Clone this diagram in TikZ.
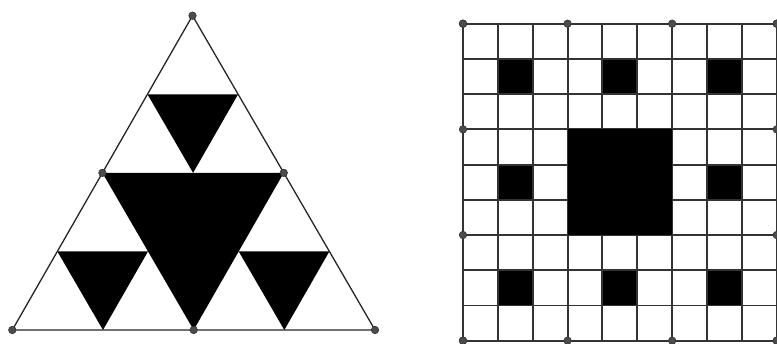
\documentclass[tikz,border=0pt]{standalone}
\usetikzlibrary{calc}
\begin{document}
\begin{tikzpicture}[x=1pt,y=-1pt,
  dot/.style={circle,fill=black!70,draw=black!80,line width=0.6pt,inner sep=0pt,minimum size=7.5pt},
  edge/.style={line width=1.3pt,black!85},
  gridline/.style={line width=1.9pt,black!80},
  blk/.style={fill=black}]
\useasboundingbox (0,0) rectangle (777,344);
% ---------- Sierpinski triangle ----------
\coordinate (A) at (12.3,330);
\coordinate (B) at (375,330);
\coordinate (C) at (192.5,15.7);
\coordinate (AB) at ($(A)!0.5!(B)$);
\coordinate (AC) at ($(A)!0.5!(C)$);
\coordinate (BC) at ($(B)!0.5!(C)$);
% level 2 points
\coordinate (p1) at ($(AC)!0.5!(C)$);
\coordinate (p2) at ($(BC)!0.5!(C)$);
\coordinate (pm) at ($(AC)!0.5!(BC)$);
\coordinate (p3) at ($(AC)!0.5!(A)$);
\coordinate (p4) at ($(AC)!0.5!(AB)$);
\coordinate (p5) at ($(BC)!0.5!(AB)$);
\coordinate (p6) at ($(BC)!0.5!(B)$);
\coordinate (q1) at ($(A)!0.5!(AB)$);
\coordinate (q2) at ($(B)!0.5!(AB)$);
\fill[blk] (AC) -- (BC) -- (AB) -- cycle;
\fill[blk] (p1) -- (p2) -- (pm) -- cycle;
\fill[blk] (p3) -- (p4) -- (q1) -- cycle;
\fill[blk] (p5) -- (p6) -- (q2) -- cycle;
\draw[edge] (A) -- (B) -- (C) -- cycle;
\node[dot] (nA) at (A) {};
\node[dot] (nB) at (B) {};
\node[dot] (nC) at (C) {};
\node[dot] (nAB) at (AB) {};
\node[dot] (nAC) at (AC) {};
\node[dot] (nBC) at (BC) {};
% ---------- Sierpinski carpet ----------
\def\gx{463}\def\gy{23.7}\def\cw{34.86}\def\ch{35.22}
\foreach \r/\c in {1/1,1/4,1/7,4/1,4/7,7/1,7/4,7/7}{
  \fill[blk] (\gx+\c*\cw,\gy+\r*\ch) rectangle ++(\cw,\ch);
}
\foreach \i in {0,...,9}{
  \draw[gridline] (\gx+\i*\cw,\gy) -- (\gx+\i*\cw,\gy+9*\ch);
  \draw[gridline] (\gx,\gy+\i*\ch) -- (\gx+9*\cw,\gy+\i*\ch);
}
\fill[blk] (\gx+3*\cw,\gy+3*\ch) rectangle ++(3*\cw,3*\ch);
\foreach \i in {0,3,6,9}{
  \node[dot] (t\i) at (\gx+\i*\cw,\gy) {};
  \node[dot] (b\i) at (\gx+\i*\cw,\gy+9*\ch) {};
  \node[dot] (l\i) at (\gx,\gy+\i*\ch) {};
  \node[dot] (r\i) at (\gx+9*\cw,\gy+\i*\ch) {};
}
\end{tikzpicture}
\end{document}
